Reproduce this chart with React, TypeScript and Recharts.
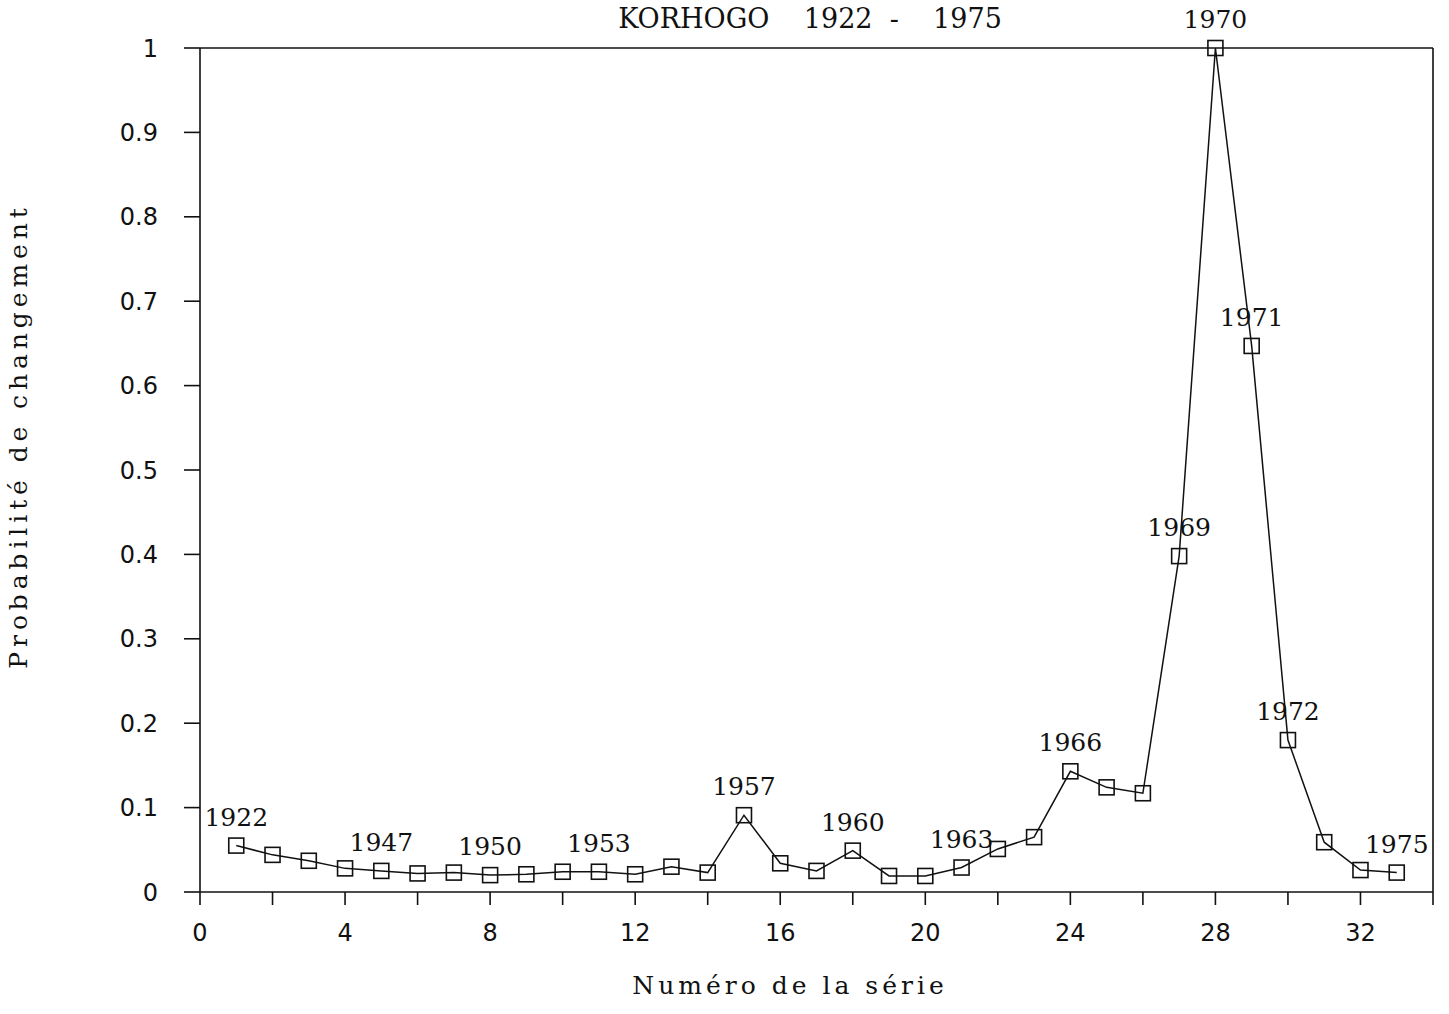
import { LineChart, Line, XAxis, YAxis, ReferenceLine, LabelList } from "recharts";

const serie = [
  1, 2, 3, 4, 5, 6, 7, 8, 9, 10, 11, 12, 13, 14, 15, 16, 17,
  18, 19, 20, 21, 22, 23, 24, 25, 26, 27, 28, 29, 30, 31, 32, 33,
];

const probabilite = [
  0.055, 0.044, 0.037, 0.028, 0.025, 0.022, 0.023, 0.020, 0.021, 0.024, 0.024,
  0.021, 0.030, 0.023, 0.091, 0.034, 0.025, 0.049, 0.019, 0.019, 0.029, 0.051,
  0.065, 0.143, 0.124, 0.117, 0.398, 1.0, 0.647, 0.180, 0.059, 0.026, 0.023,
];

const annees = [
  "1922", "", "", "", "1947", "", "", "1950", "", "", "1953", "", "", "",
  "1957", "", "", "1960", "", "", "1963", "", "", "1966", "", "", "1969",
  "1970", "1971", "1972", "", "", "1975",
];

const xTicks = [0, 2, 4, 6, 8, 10, 12, 14, 16, 18, 20, 22, 24, 26, 28, 30, 32, 34];
const yTicks = [0, 0.1, 0.2, 0.3, 0.4, 0.5, 0.6, 0.7, 0.8, 0.9, 1];

const data = serie.map((s, i) => ({ serie: s, p: probabilite[i], annee: annees[i] }));

const INK = "#111";
const SANS = "'DejaVu Sans', sans-serif";
const SERIF = "'DejaVu Serif', serif";

function XTick(props: any) {
  const { x, y, payload } = props;
  const v = payload.value;
  if (v % 4 !== 0 || v > 32) return null;
  return (
    <text x={x} y={y + 36} textAnchor="middle" fontFamily={SANS} fontSize={24} fill={INK}>
      {v}
    </text>
  );
}

function YTick(props: any) {
  const { x, y, payload } = props;
  const v = payload.value;
  return (
    <text x={x - 26} y={y} dy="0.36em" textAnchor="end" fontFamily={SANS} fontSize={24} fill={INK}>
      {v === 0 || v === 1 ? String(v) : v.toFixed(1)}
    </text>
  );
}

function SquareDot(props: any) {
  const { cx, cy } = props;
  if (cx == null || cy == null) return null;
  return <rect x={cx - 7.5} y={cy - 7.5} width={15} height={15} fill="none" stroke={INK} strokeWidth={1.6} />;
}

function YearLabel(props: any) {
  const x = props.x ?? props.viewBox?.x;
  const y = props.y ?? props.viewBox?.y;
  if (!props.value) return null;
  return (
    <text x={x} y={y - 29} dy="0.36em" textAnchor="middle" fontFamily={SERIF} fontSize={25} fill={INK}>
      {props.value}
    </text>
  );
}

export default function App() {
  return (
    <div style={{ position: "absolute", left: 0, top: 0, width: 1449, height: 1014, background: "#fff" }}>
      <div
        style={{
          position: "absolute",
          left: 0,
          width: 1620,
          top: 3,
          textAlign: "center",
          fontFamily: SERIF,
          fontSize: 27,
          whiteSpace: "pre",
          color: INK,
        }}
      >
        {"KORHOGO    1922  -    1975"}
      </div>
      <div
        style={{
          position: "absolute",
          left: 200,
          width: 1180,
          top: 971,
          textAlign: "center",
          fontFamily: SERIF,
          fontSize: 25,
          whiteSpace: "pre",
          color: INK,
          letterSpacing: 4,
        }}
      >
        Numéro de la série
      </div>
      <div
        style={{
          position: "absolute",
          left: 18,
          top: 436,
          transform: "translate(-50%, -50%) rotate(-90deg)",
          fontFamily: SERIF,
          fontSize: 25,
          whiteSpace: "pre",
          color: INK,
          letterSpacing: 4.9,
        }}
      >
        Probabilité de changement
      </div>
      <LineChart
        width={1449}
        height={1014}
        data={data}
        margin={{ top: 48, right: 16, bottom: 62, left: 80 }}
        style={{ position: "absolute", left: 0, top: 0 }}
      >
        <XAxis
          dataKey="serie"
          type="number"
          domain={[0, 34]}
          ticks={xTicks}
          interval={0}
          height={60}
          tickSize={13}
          tickMargin={0}
          tick={<XTick />}
          stroke={INK}
          strokeWidth={1.6}
        />
        <YAxis
          type="number"
          domain={[0, 1]}
          ticks={yTicks}
          interval={0}
          width={120}
          tickSize={16}
          tickMargin={0}
          tick={<YTick />}
          stroke={INK}
          strokeWidth={1.6}
        />
        <ReferenceLine y={1} stroke={INK} strokeWidth={1.6} />
        <ReferenceLine x={34} stroke={INK} strokeWidth={1.6} />
        <Line
          dataKey="p"
          stroke={INK}
          strokeWidth={1.5}
          dot={<SquareDot />}
          activeDot={false}
          isAnimationActive={false}
        >
          <LabelList dataKey="annee" content={<YearLabel />} />
        </Line>
      </LineChart>
    </div>
  );
}
